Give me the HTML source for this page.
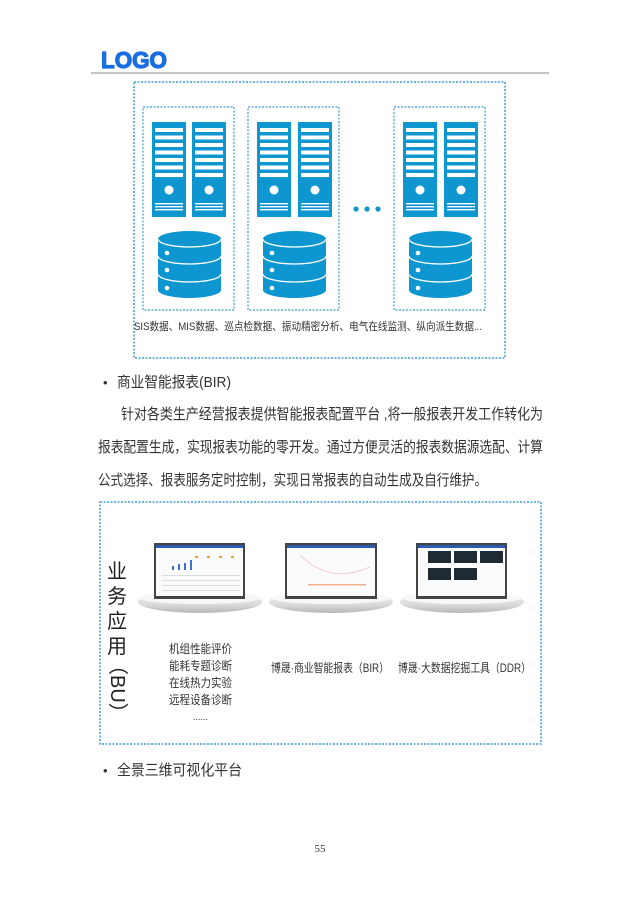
<!DOCTYPE html>
<html><head><meta charset="utf-8"><style>
html,body{margin:0;padding:0;background:#fff}
svg{display:block}
text{font-family:"Liberation Sans","Noto Sans CJK SC",sans-serif}
</style></head><body>
<svg width="640" height="906" viewBox="0 0 640 906" xmlns="http://www.w3.org/2000/svg">
<defs>
<g id="srv">
<rect x="0" y="0" width="34" height="95" fill="#0d96cf"/>
<g fill="#fff">
<rect x="3" y="6" width="28" height="4"/><rect x="3" y="13.5" width="28" height="4"/><rect x="3" y="21" width="28" height="4"/><rect x="3" y="28.5" width="28" height="4"/><rect x="3" y="36" width="28" height="4"/><rect x="3" y="43.5" width="28" height="4"/><rect x="3" y="51" width="28" height="4"/>
<circle cx="17" cy="68" r="4.5"/>
<rect x="3" y="81" width="28" height="1.4"/><rect x="3" y="84" width="28" height="1.4"/><rect x="3" y="87" width="28" height="1.4"/>
</g>
</g>
<g id="db">
<path d="M0 8 A31.5 8 0 0 1 63 8 L63 59 A31.5 8 0 0 1 0 59 Z" fill="#0d96cf"/>
<path d="M0 8 A31.5 8 0 0 0 63 8" fill="none" stroke="#fff" stroke-width="1.3"/>
<path d="M0 25 A31.5 8 0 0 0 63 25" fill="none" stroke="#fff" stroke-width="1.3"/>
<path d="M0 43 A31.5 8 0 0 0 63 43" fill="none" stroke="#fff" stroke-width="1.3"/>
<circle cx="9" cy="22" r="2.3" fill="#fff"/><circle cx="9" cy="39" r="2.3" fill="#fff"/><circle cx="9" cy="57" r="2.3" fill="#fff"/>
</g>
<linearGradient id="plat" x1="0" y1="0" x2="0" y2="1">
<stop offset="0" stop-color="#f4f4f4"/><stop offset="0.6" stop-color="#dcdcdc"/><stop offset="1" stop-color="#b8b8b8"/>
</linearGradient>
</defs>

<text x="101" y="68" font-size="23" font-weight="bold" fill="#1a6fe0" stroke="#1a6fe0" stroke-width="1.2" textLength="66" lengthAdjust="spacingAndGlyphs">LOGO</text>
<line x1="91" y1="73" x2="549" y2="73" stroke="#888" stroke-width="1"/>

<rect x="134" y="82" width="371" height="276" fill="none" stroke="#3aa0d0" stroke-width="1.5" stroke-dasharray="2,1.5"/>
<rect x="143" y="107" width="91" height="203" fill="none" stroke="#3aa0d0" stroke-width="1.2" stroke-dasharray="2,1.5"/>
<rect x="248" y="107" width="91" height="203" fill="none" stroke="#3aa0d0" stroke-width="1.2" stroke-dasharray="2,1.5"/>
<rect x="394" y="107" width="91" height="203" fill="none" stroke="#3aa0d0" stroke-width="1.2" stroke-dasharray="2,1.5"/>
<use href="#srv" x="152" y="122"/><use href="#srv" x="192" y="122"/>
<use href="#srv" x="257" y="122"/><use href="#srv" x="298" y="122"/>
<use href="#srv" x="403" y="122"/><use href="#srv" x="444" y="122"/>
<use href="#db" x="158" y="231"/><use href="#db" x="263" y="231"/><use href="#db" x="409" y="231"/>
<circle cx="356" cy="209" r="2.6" fill="#0d96cf"/><circle cx="367" cy="209" r="2.6" fill="#0d96cf"/><circle cx="378" cy="209" r="2.6" fill="#0d96cf"/>
<text x="134" y="330" font-size="11" fill="#333" textLength="348" lengthAdjust="spacingAndGlyphs">SIS数据、MIS数据、巡点检数据、振动精密分析、电气在线监测、纵向派生数据...</text>

<text x="103" y="387" font-size="13" fill="#333">•</text>
<text x="117" y="387" font-size="15" fill="#333" textLength="114" lengthAdjust="spacingAndGlyphs">商业智能报表(BIR)</text>
<text x="121" y="419" font-size="15" fill="#333" textLength="422" lengthAdjust="spacingAndGlyphs">针对各类生产经营报表提供智能报表配置平台 ,将一般报表开发工作转化为</text>
<text x="98" y="452" font-size="15" fill="#333" textLength="445" lengthAdjust="spacingAndGlyphs">报表配置生成，实现报表功能的零开发。通过方便灵活的报表数据源选配、计算</text>
<text x="98" y="485" font-size="15" fill="#333" textLength="389" lengthAdjust="spacingAndGlyphs">公式选择、报表服务定时控制，实现日常报表的自动生成及自行维护。</text>

<rect x="100" y="502" width="441" height="242" fill="none" stroke="#3aa0d0" stroke-width="1.5" stroke-dasharray="2,1.5"/>

<g>
<ellipse cx="200" cy="602" rx="62" ry="11" fill="url(#plat)"/>
<ellipse cx="200" cy="598" rx="60" ry="6" fill="#f7f7f7"/>
<rect x="154" y="543" width="91" height="56" fill="#444"/>
<rect x="156" y="545" width="87" height="51" fill="#fafbfd"/>
<rect x="156" y="545" width="87" height="3" fill="#2d5bb0"/>
<g fill="#f0a020"><rect x="195" y="556" width="3" height="2"/><rect x="207" y="556" width="3" height="2"/><rect x="219" y="556" width="3" height="2"/><rect x="231" y="556" width="3" height="2"/></g>
<g fill="#3b72d0"><rect x="172" y="566" width="2" height="4"/><rect x="178" y="564" width="2" height="6"/><rect x="184" y="563" width="2" height="7"/><rect x="190" y="560" width="2" height="10"/></g>
<g fill="#ddd"><rect x="162" y="575" width="78" height="1"/><rect x="162" y="580" width="78" height="1"/><rect x="162" y="585" width="78" height="1"/><rect x="162" y="590" width="78" height="1"/></g>
</g>
<g>
<ellipse cx="331" cy="602" rx="62" ry="11" fill="url(#plat)"/>
<ellipse cx="331" cy="598" rx="60" ry="6" fill="#f7f7f7"/>
<rect x="285" y="543" width="92" height="56" fill="#444"/>
<rect x="287" y="545" width="88" height="51" fill="#fafbfd"/>
<rect x="287" y="545" width="88" height="3" fill="#2d5bb0"/>
<path d="M300 555 Q330 585 370 567" stroke="#f3c0c0" fill="none" stroke-width="0.8"/>
<rect x="308" y="584" width="58" height="1.5" fill="#f0b090"/>
</g>
<g>
<ellipse cx="462" cy="602" rx="62" ry="11" fill="url(#plat)"/>
<ellipse cx="462" cy="598" rx="60" ry="6" fill="#f7f7f7"/>
<rect x="416" y="543" width="91" height="56" fill="#444"/>
<rect x="418" y="545" width="87" height="51" fill="#fafbfd"/>
<rect x="418" y="545" width="87" height="3" fill="#2d5bb0"/>
<g fill="#1f2a33"><rect x="428" y="551" width="23" height="12"/><rect x="454" y="551" width="23" height="12"/><rect x="480" y="551" width="23" height="12"/><rect x="428" y="568" width="23" height="12"/><rect x="454" y="568" width="23" height="12"/></g>
</g>

<g font-size="20" fill="#222">
<text x="107" y="578">业</text><text x="107" y="603">务</text><text x="107" y="628">应</text><text x="107" y="653">用</text>
</g>
<text font-size="20" fill="#222" transform="translate(111,655) rotate(90)">（BU）</text>

<g font-size="12" fill="#333">
<text x="169" y="653" textLength="63" lengthAdjust="spacingAndGlyphs">机组性能评价</text>
<text x="169" y="670" textLength="63" lengthAdjust="spacingAndGlyphs">能耗专题诊断</text>
<text x="169" y="687" textLength="63" lengthAdjust="spacingAndGlyphs">在线热力实验</text>
<text x="169" y="704" textLength="63" lengthAdjust="spacingAndGlyphs">远程设备诊断</text>
<text x="193" y="720" font-size="9">......</text>
<text x="271" y="672" textLength="118" lengthAdjust="spacingAndGlyphs">博晟·商业智能报表（BIR）</text>
<text x="398" y="672" textLength="133" lengthAdjust="spacingAndGlyphs">博晟·大数据挖掘工具（DDR）</text>
</g>

<text x="103" y="775" font-size="13" fill="#333">•</text>
<text x="117" y="775" font-size="15" fill="#333" textLength="125" lengthAdjust="spacingAndGlyphs">全景三维可视化平台</text>

<text x="320" y="852" font-size="11" fill="#333" text-anchor="middle" style="font-family:'Liberation Serif',serif">55</text>
</svg>
</body></html>
